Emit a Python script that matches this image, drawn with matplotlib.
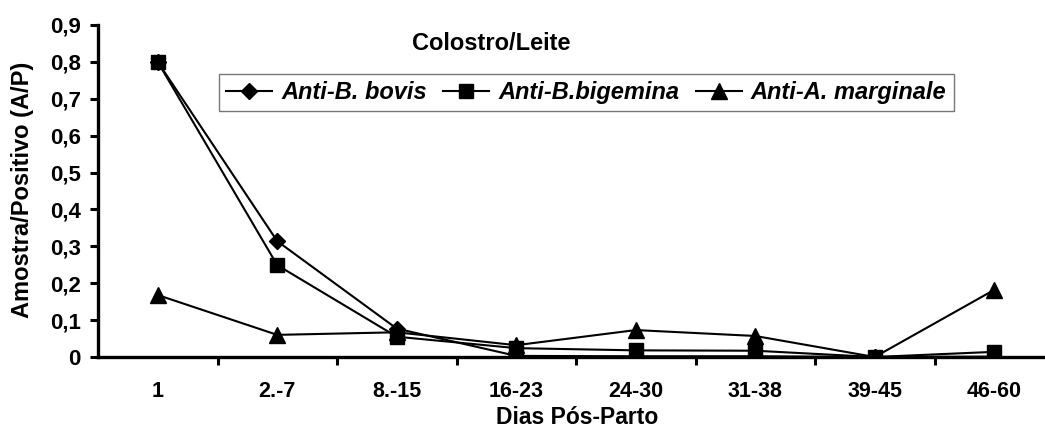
import matplotlib as mpl
mpl.use('Agg')
import matplotlib.pyplot as plt
import numpy as np

plt.rcParams['font.family'] = ['Liberation Sans', 'DejaVu Sans']

categories = ['1', '2.-7', '8.-15', '16-23', '24-30', '31-38', '39-45', '46-60']
bovis = [0.80, 0.314, 0.077, 0.003, 0.002, 0.002, 0.0, 0.001]
bigemina = [0.80, 0.249, 0.055, 0.024, 0.018, 0.017, 0.0, 0.014]
marginale = [0.168, 0.060, 0.067, 0.032, 0.073, 0.057, 0.0, 0.182]
yticks = [0, 0.1, 0.2, 0.3, 0.4, 0.5, 0.6, 0.7, 0.8, 0.9]
ytick_labels = ['0', '0,1', '0,2', '0,3', '0,4', '0,5', '0,6', '0,7', '0,8', '0,9']

W, H = 1045, 429
fig = plt.figure(figsize=(W / 100, H / 100), dpi=100)
ax = fig.add_axes([98 / W, (H - 357) / H, (1054 - 98) / W, (357 - 25) / H])
ax.patch.set_alpha(0)

x = np.arange(len(categories))
lw = 1.5
ax.plot(x, bovis, color='black', lw=lw, marker='D', ms=8, label='Anti-B. bovis', zorder=3)
ax.plot(x, bigemina, color='black', lw=lw, marker='s', ms=10, label='Anti-B.bigemina', zorder=3)
ax.plot(x, marginale, color='black', lw=lw, marker='^', ms=11, label='Anti-A. marginale', zorder=3)

ax.set_xlim(-0.5, len(categories) - 0.5)
ax.set_ylim(0, 0.9)
ax.set_yticks(yticks)
ax.set_yticklabels(ytick_labels, fontsize=16, fontweight='bold')
ax.set_xticks(x)
ax.set_xticklabels(categories, fontsize=15.5, fontweight='bold')
ax.set_xticks(np.arange(len(categories)) + 0.5, minor=True)
ax.tick_params(axis='x', which='major', length=0, pad=17)
ax.tick_params(axis='x', which='minor', length=6, width=2.2, direction='out')
ax.tick_params(axis='y', length=5.5, width=2.2, direction='out', pad=7)

for s in ['top', 'right']:
    ax.spines[s].set_visible(False)
for s in ['left', 'bottom']:
    ax.spines[s].set_linewidth(2.4)

fig.text(23 / W, 1 - 190 / H, 'Amostra/Positivo (A/P)', fontsize=17, fontweight='bold',
         rotation=90, ha='center', va='center')
fig.text(577 / W, 1 - 418 / H, 'Dias Pós-Parto', fontsize=16.5, fontweight='bold',
         ha='center', va='center')
fig.text(491 / W, 1 - 44 / H, 'Colostro/Leite', fontsize=17, fontweight='bold',
         ha='center', va='center')

leg = fig.legend(loc='upper left', bbox_to_anchor=(219 / W, 1 - 74 / H), ncol=3,
                 frameon=True, fancybox=False, borderaxespad=0, handlelength=1.95,
                 columnspacing=0.7, handletextpad=0.38, borderpad=0.3,
                 prop={'size': 17, 'weight': 'bold', 'style': 'italic'})
leg.get_frame().set_edgecolor('#555555')
leg.get_frame().set_linewidth(1.0)

plt.savefig('out.png', dpi=100)
